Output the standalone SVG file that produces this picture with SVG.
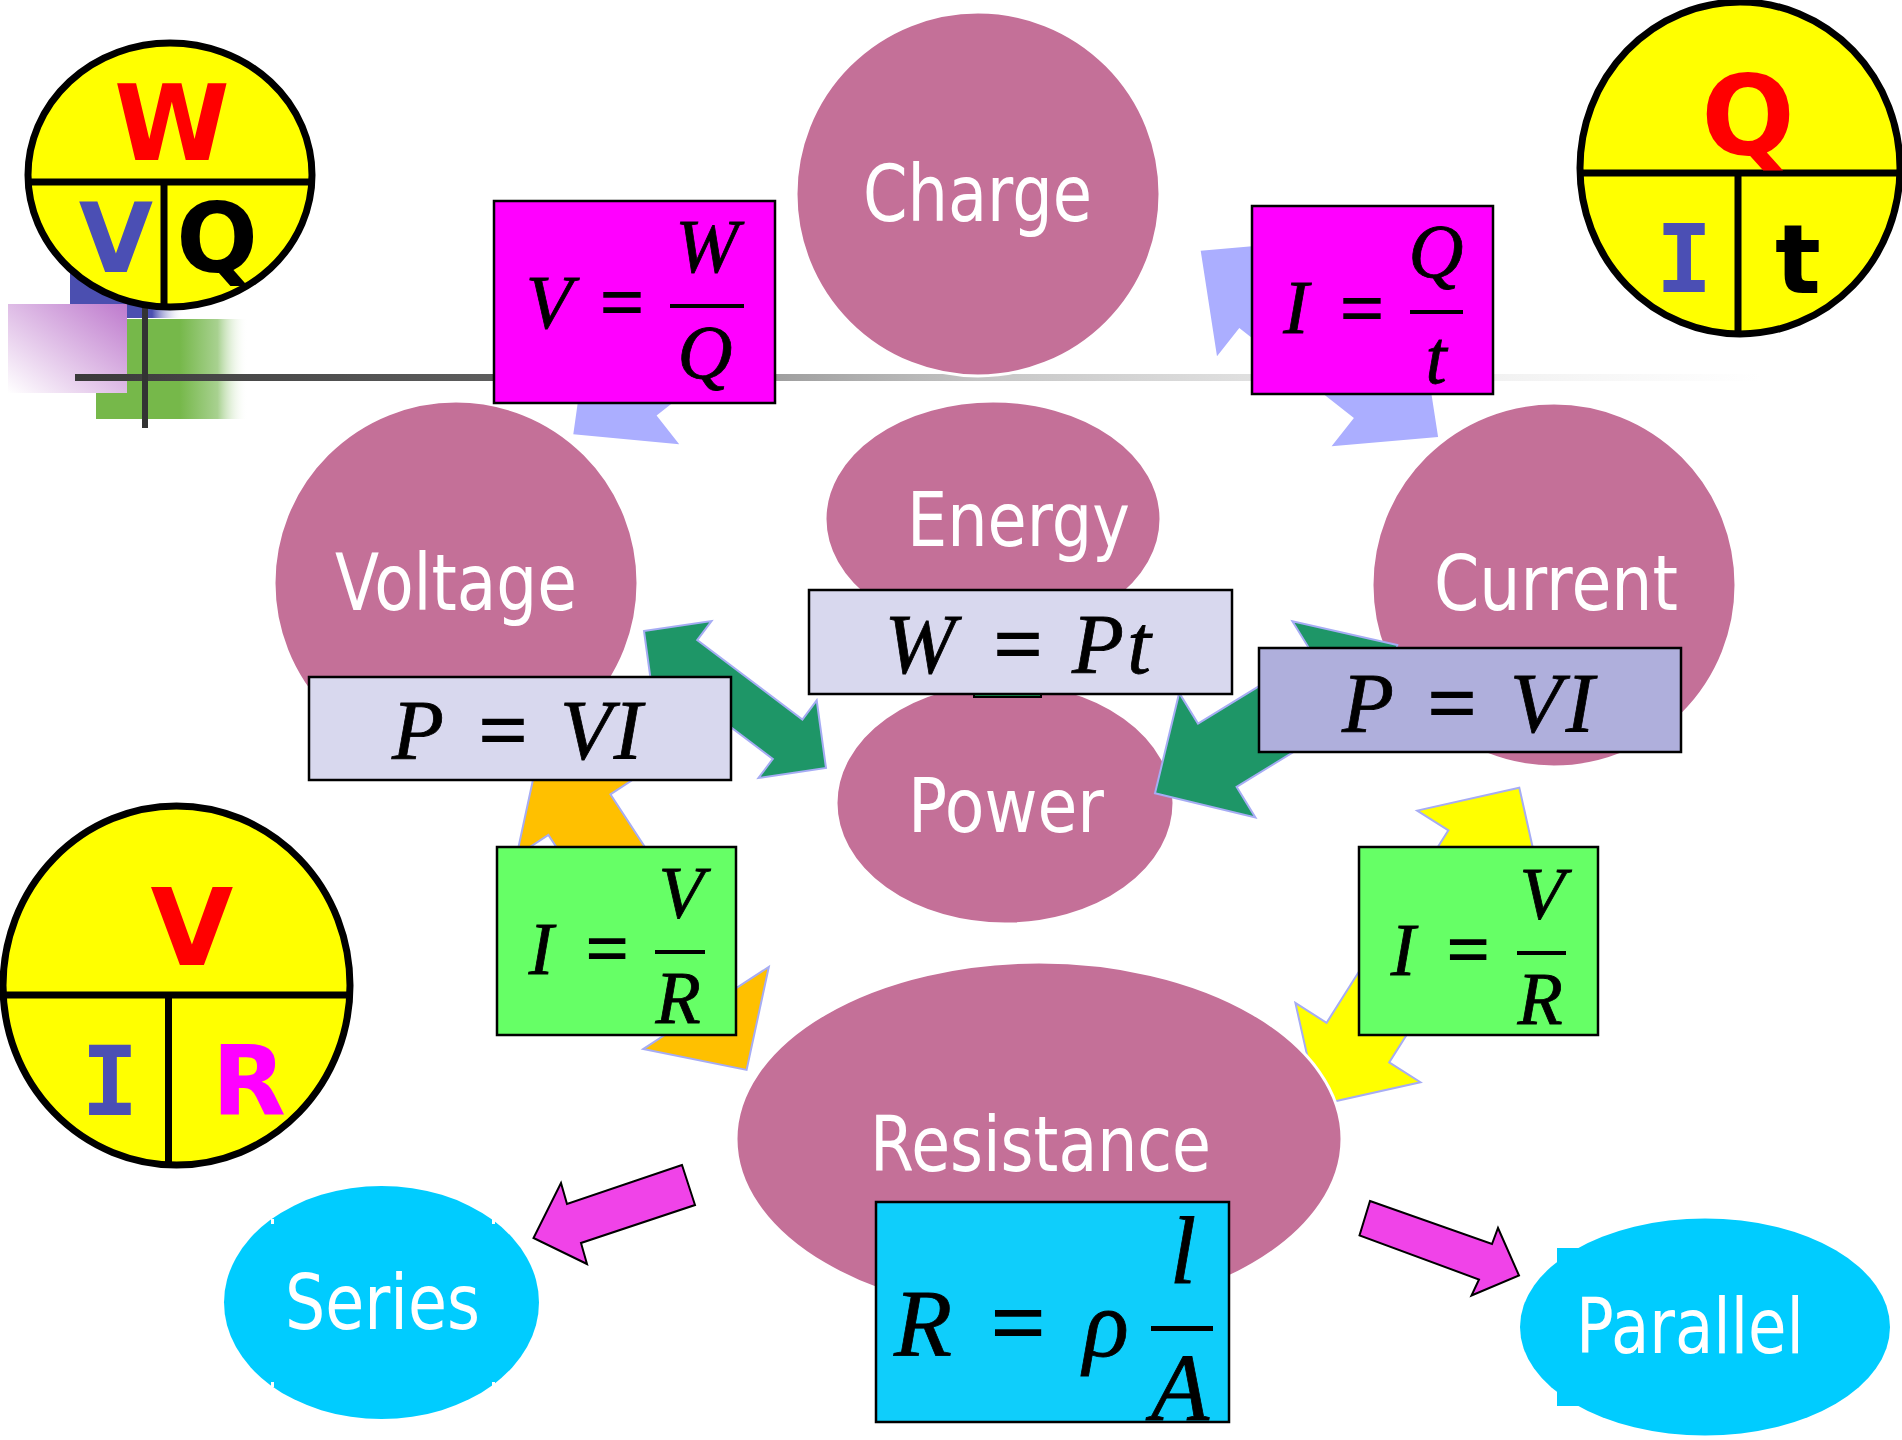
<svg xmlns="http://www.w3.org/2000/svg" width="1902" height="1440" viewBox="0 0 1902 1440">
<style>
.bubble{fill:#C47098;stroke:#fff;stroke-width:3}
.lbl{font-family:'DejaVu Sans',Verdana,sans-serif;fill:#fff}
.box{stroke:#000;stroke-width:2.5}
.m{font-family:'Liberation Serif','Times New Roman',serif;font-style:italic;fill:#000;stroke:#000;stroke-width:0.8;text-anchor:middle}
.eq{font-family:'Liberation Serif','Times New Roman',serif;fill:#000;stroke:#000;stroke-width:2;text-anchor:middle}
.yc{fill:#FFFF00;stroke:#000;stroke-width:7}
.yl{stroke:#000;stroke-width:7}
.big{font-family:'DejaVu Sans',Verdana,sans-serif;font-weight:bold;text-anchor:middle}
.slab{font-family:'DejaVu Sans Mono',monospace;font-weight:bold;text-anchor:middle}
.arr{stroke:#A6ACF4;stroke-width:2;stroke-linejoin:miter}
.lav{fill:#ABAEFF}
.pink{fill:#F043E8;stroke:#000;stroke-width:2}
.cyan{fill:#00CCFF}
</style>
<defs>
<linearGradient id="gLine" x1="0" y1="0" x2="1" y2="0">
<stop offset="0" stop-color="#3A3A3A"/>
<stop offset="0.25" stop-color="#5E5E5E"/>
<stop offset="0.42" stop-color="#A0A0A0"/>
<stop offset="0.55" stop-color="#C8C8C8"/>
<stop offset="0.7" stop-color="#E0E0E0"/>
<stop offset="0.85" stop-color="#F2F2F2"/>
<stop offset="1" stop-color="#FFFFFF"/>
</linearGradient>
<linearGradient id="gBlue" x1="0" y1="0" x2="1" y2="0">
<stop offset="0" stop-color="#4B4FB0"/>
<stop offset="0.72" stop-color="#4B4FB0"/>
<stop offset="1" stop-color="#FFFFFF" stop-opacity="0"/>
</linearGradient>
<linearGradient id="gGreen" x1="0" y1="0" x2="1" y2="0">
<stop offset="0" stop-color="#76B84A"/>
<stop offset="0.55" stop-color="#76B84A"/>
<stop offset="0.8" stop-color="#A8D190"/>
<stop offset="1" stop-color="#FFFFFF" stop-opacity="0"/>
</linearGradient>
<linearGradient id="gPurple" x1="1" y1="0" x2="0" y2="1">
<stop offset="0" stop-color="#BE7ACD"/>
<stop offset="1" stop-color="#FFFFFF"/>
</linearGradient>
<mask id="cutRes" maskUnits="userSpaceOnUse" x="0" y="0" width="1902" height="1440">
<rect width="1902" height="1440" fill="#fff"/>
<ellipse cx="1039" cy="1139" rx="304.5" ry="178.5" fill="#000"/>
</mask>
</defs>
<rect width="1902" height="1440" fill="#fff"/>

<g id="template-deco">
<rect x="70" y="240" width="114" height="78" fill="url(#gBlue)"/>
<rect x="96" y="319" width="152" height="100" fill="url(#gGreen)"/>
<rect x="8" y="304" width="119" height="89" fill="url(#gPurple)"/>
<rect x="75" y="374" width="1685" height="7" fill="url(#gLine)"/>
<rect x="142" y="305" width="6" height="123" fill="#333"/>
</g>

<g id="node-charge"><ellipse class="bubble" cx="978" cy="194" rx="182" ry="182"/><text class="lbl" x="863" y="221" font-size="78" textLength="229" lengthAdjust="spacingAndGlyphs">Charge</text></g>
<g id="node-voltage"><ellipse class="bubble" cx="456" cy="583" rx="182" ry="182"/><text class="lbl" x="335" y="610" font-size="78" textLength="242" lengthAdjust="spacingAndGlyphs">Voltage</text></g>
<g id="node-current"><ellipse class="bubble" cx="1554" cy="585" rx="182" ry="182"/><text class="lbl" x="1434" y="610" font-size="76" textLength="244" lengthAdjust="spacingAndGlyphs">Current</text></g>
<g id="node-energy"><ellipse class="bubble" cx="993" cy="519" rx="168" ry="118"/><text class="lbl" x="907" y="546" font-size="74" textLength="223" lengthAdjust="spacingAndGlyphs">Energy</text></g>
<g id="node-power"><ellipse class="bubble" cx="1005" cy="803" rx="169" ry="121"/><text class="lbl" x="908" y="832" font-size="74" textLength="196" lengthAdjust="spacingAndGlyphs">Power</text></g>
<g id="node-resistance"><ellipse class="bubble" cx="1039" cy="1139" rx="303" ry="177"/><text class="lbl" x="870" y="1171" font-size="76" textLength="341" lengthAdjust="spacingAndGlyphs">Resistance</text></g>

<g id="connectors">
<polygon class="lav" points="573.3,434.3 679.2,444.3 656.6,415.6 758.6,335.1 712.8,277.1 610.8,357.6 588.2,328.9"/>
<polygon class="lav" points="1200.7,250.7 1307.2,241.5 1284.9,269.8 1399.5,359.8 1421.8,331.5 1438.1,437.1 1331.6,446.3 1353.9,418.0 1239.3,328.0 1217.0,356.3"/>
<polygon class="arr" fill="#FFFF00" mask="url(#cutRes)" points="1519.3,787.7 1542.2,889.8 1511.0,870.0 1389.2,1062.4 1420.4,1082.2 1318.3,1105.1 1295.4,1003.0 1326.6,1022.8 1448.4,830.4 1417.2,810.6"/>
<polygon class="arr" fill="#FFC000" points="538.8,752.8 642.2,773.6 610.4,794.4 737.0,987.7 768.8,966.9 746.6,1069.9 643.2,1049.1 675.0,1028.3 548.4,835.0 516.6,855.8"/>
<polygon class="arr" fill="#1E9667" points="644,631 711.5,621.0 697.2,640.1 802.4,719.5 816.7,700.4 826,768 758.5,778.0 772.8,758.9 667.6,679.5 653.3,698.6"/>
<polygon class="arr" fill="#1E9667" points="1155,793.3 1255.4,817.5 1236.6,786.8 1350.9,716.8 1370.8,749.2 1397.3,645.1 1292.4,621.2 1312.3,653.6 1198,723.6 1179.2,692.9"/>
<rect x="974" y="680" width="67" height="17" fill="#1EA05A" stroke="#000" stroke-width="2"/>
<polygon class="pink" points="682,1165 567,1204 561,1183 533.5,1238 587,1264 581,1243 695,1205"/>
<polygon class="pink" points="1370,1201 1492,1244 1498,1228 1519,1275.5 1471.5,1295.5 1479,1279.5 1359.5,1235.5"/>
</g>

<g id="f-vwq"><rect class="box" x="494" y="201" width="281" height="202" fill="#FF00FF"/>
<text class="m" x="549" y="328" font-size="76">V</text><text class="eq" x="622" y="328" font-size="76">=</text>
<rect x="670" y="304" width="74" height="4"/>
<text class="m" x="707" y="272" font-size="76">W</text><text class="m" x="705" y="378" font-size="76">Q</text></g>

<g id="f-iqt"><rect class="box" x="1252" y="206" width="241" height="188" fill="#FF00FF"/>
<text class="m" x="1296" y="333" font-size="76">I</text><text class="eq" x="1362" y="334" font-size="76">=</text>
<rect x="1410" y="310" width="53" height="4"/>
<text class="m" x="1436" y="277" font-size="76">Q</text><text class="m" x="1436" y="383" font-size="76">t</text></g>

<g id="f-pvi-left"><rect class="box" x="309" y="677" width="422" height="103" fill="#D8D8EE"/>
<text class="m" x="418" y="759" font-size="85">P</text><text class="eq" x="503" y="759" font-size="85">=</text>
<text class="m" x="586" y="759" font-size="85">V</text><text class="m" x="628" y="759" font-size="85">I</text></g>

<g id="f-wpt"><rect class="box" x="809" y="590" width="423" height="104" fill="#D8D8EE"/>
<text class="m" x="920" y="673" font-size="85">W</text><text class="eq" x="1018" y="673" font-size="85">=</text>
<text class="m" x="1098" y="673" font-size="85">P</text><text class="m" x="1139" y="673" font-size="85">t</text></g>

<g id="f-pvi-right"><rect class="box" x="1259" y="648" width="422" height="104" fill="#AFAFDC"/>
<text class="m" x="1368" y="732" font-size="85">P</text><text class="eq" x="1452" y="732" font-size="85">=</text>
<text class="m" x="1536" y="732" font-size="85">V</text><text class="m" x="1580" y="732" font-size="85">I</text></g>

<g id="f-ivr-left"><rect class="box" x="497" y="847" width="239" height="188" fill="#66FF66"/>
<text class="m" x="541" y="974" font-size="74">I</text><text class="eq" x="607" y="973" font-size="74">=</text>
<rect x="655" y="950" width="50" height="4"/>
<text class="m" x="681" y="918" font-size="74">V</text><text class="m" x="678" y="1023" font-size="74">R</text></g>

<g id="f-ivr-right"><rect class="box" x="1359" y="847" width="239" height="188" fill="#66FF66"/>
<text class="m" x="1403" y="975" font-size="74">I</text><text class="eq" x="1468" y="974" font-size="74">=</text>
<rect x="1517" y="951" width="49" height="4"/>
<text class="m" x="1542" y="919" font-size="74">V</text><text class="m" x="1540" y="1024" font-size="74">R</text></g>

<g id="f-rla"><rect class="box" x="876" y="1202" width="353" height="220" fill="#0FCEFB"/>
<text class="m" x="923" y="1356" font-size="95">R</text><text class="eq" x="1018" y="1355" font-size="95">=</text>
<text class="m" x="1106" y="1356" font-size="95">ρ</text>
<rect x="1151" y="1326" width="62" height="5"/>
<text class="m" x="1183" y="1283" font-size="95">l</text><text class="m" x="1180" y="1420" font-size="95">A</text></g>

<g id="node-series"><ellipse class="cyan" cx="381.5" cy="1302.5" rx="157.5" ry="116.5"/>
<rect x="271" y="1219" width="3" height="5" fill="#fff"/><rect x="492" y="1219" width="3" height="5" fill="#fff"/>
<rect x="271" y="1382" width="3" height="5" fill="#fff"/><rect x="492" y="1382" width="3" height="5" fill="#fff"/>
<text class="lbl" x="285" y="1329" font-size="77" textLength="195" lengthAdjust="spacingAndGlyphs">Series</text></g>

<g id="node-parallel"><rect class="cyan" x="1557" y="1248" width="60" height="158"/><ellipse class="cyan" cx="1705" cy="1327" rx="185" ry="108.5"/>
<text class="lbl" x="1576" y="1353" font-size="77" textLength="228" lengthAdjust="spacingAndGlyphs">Parallel</text></g>

<g id="tri-wvq"><ellipse class="yc" cx="170" cy="175" rx="142" ry="132"/>
<line class="yl" x1="28" y1="182" x2="312" y2="182"/><line class="yl" x1="164" y1="182" x2="164" y2="307"/>
<text class="big" x="172" y="160" font-size="105" fill="#FF0000">W</text>
<text class="big" x="116" y="272" font-size="96" fill="#4B4FB4">V</text>
<text class="big" x="217" y="272" font-size="96" fill="#000">Q</text></g>

<g id="tri-qit"><ellipse class="yc" cx="1740" cy="168" rx="160" ry="166"/>
<line class="yl" x1="1580" y1="173" x2="1902" y2="173"/><line class="yl" x1="1738" y1="173" x2="1738" y2="334"/>
<text class="big" x="1748" y="155" font-size="110" fill="#FF0000">Q</text>
<text class="slab" x="1684" y="292" font-size="95" fill="#4B4FB4">I</text>
<text class="big" x="1798" y="293" font-size="96" fill="#000">t</text></g>

<g id="tri-vir"><ellipse class="yc" cx="176.5" cy="985.5" rx="173.5" ry="179.5"/>
<line class="yl" x1="3" y1="995" x2="350" y2="995"/><line class="yl" x1="168.5" y1="995" x2="168.5" y2="1165"/>
<text class="big" x="192" y="965" font-size="107" fill="#FF0000">V</text>
<text class="slab" x="110" y="1115" font-size="96" fill="#4B4FB4">I</text>
<text class="big" x="249" y="1115" font-size="96" fill="#FF00FF">R</text></g>
</svg>
